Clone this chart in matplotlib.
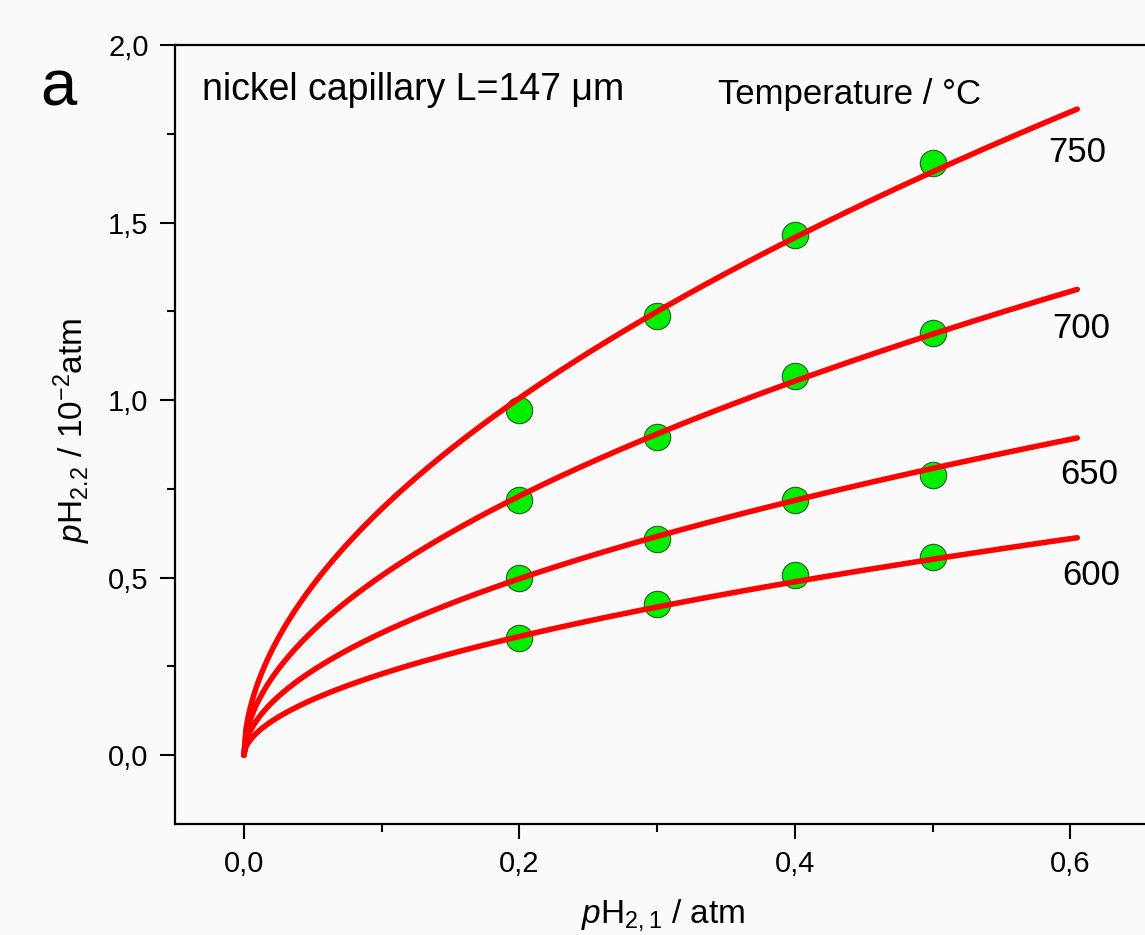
import numpy as np
import matplotlib
matplotlib.use("Agg")
import matplotlib.pyplot as plt
from matplotlib.ticker import MultipleLocator, FuncFormatter

plt.rcParams['font.family'] = ['Liberation Sans', 'DejaVu Sans']
plt.rcParams['mathtext.fontset'] = 'custom'
plt.rcParams['mathtext.rm'] = 'Liberation Sans'
plt.rcParams['mathtext.it'] = 'Liberation Sans:italic'

# measured points (pH2,1 in atm, pH2,2 in 10^-2 atm)
p_in = [0.2, 0.3, 0.4, 0.5]
temps = ["750", "700", "650", "600"]
p_out_750 = [0.972, 1.236, 1.466, 1.669]
p_out_700 = [0.719, 0.896, 1.067, 1.188]
p_out_650 = [0.500, 0.610, 0.719, 0.789]
p_out_600 = [0.329, 0.427, 0.506, 0.559]

# fitted curves y = a * x^n
fit_a = [2.382, 1.712, 1.166, 0.806]
fit_n = [0.536, 0.530, 0.530, 0.547]

# where the temperature labels sit (data coords)
label_x = [0.584, 0.587, 0.593, 0.594]
label_y = [1.671, 1.174, 0.764, 0.478]

bg = '#fbfafa'
fig = plt.figure(figsize=(11.45, 9.35), dpi=100, facecolor=bg)
ax = fig.add_axes([175 / 1145, 111 / 935, 978 / 1145, 779 / 935], facecolor=bg)

series = [p_out_750, p_out_700, p_out_650, p_out_600]
xs = np.linspace(0, 0.605, 400)
for i, ys in enumerate(series):
    ax.plot(p_in, ys, 'o', ms=19, mfc='#00ee00', mec='#2a5a2a', mew=0.8, zorder=2)
    ax.plot(xs, fit_a[i] * xs ** fit_n[i], color='#ff0000', lw=4,
            solid_capstyle='round', zorder=3)
    ax.text(label_x[i], label_y[i], temps[i], fontsize=25, ha='left', va='baseline')

ax.set_xlim(-0.05, 0.66)
ax.set_ylim(-0.194, 2.0)
ax.xaxis.set_major_locator(MultipleLocator(0.2))
ax.xaxis.set_minor_locator(MultipleLocator(0.1))
ax.yaxis.set_major_locator(MultipleLocator(0.5))
ax.yaxis.set_minor_locator(MultipleLocator(0.25))
comma = FuncFormatter(lambda v, p: ("%.1f" % v).replace('.', ','))
ax.xaxis.set_major_formatter(comma)
ax.yaxis.set_major_formatter(comma)
ax.tick_params(which='major', direction='out', length=11, width=1.5, labelsize=21, pad=8)
ax.tick_params(which='minor', direction='out', length=6, width=1.5)
ax.tick_params(top=False, right=False)
for s in ax.spines.values():
    s.set_linewidth(1.6)

ax.text((202 - 244) / 1377, 1.845, u"nickel capillary L=147 \u03bcm", fontsize=27,
        ha='left', va='baseline')
ax.text((718 - 244) / 1377, 1.835, u"Temperature / \u00b0C", fontsize=25,
        ha='left', va='baseline')

fig.text(40 / 1145, 1 - 105 / 935, "a", fontsize=47, ha='left', va='baseline')
fig.text(663 / 1145, 1 - 923 / 935, r'$p$H$_{2,1}$ / atm', fontsize=24,
         ha='center', va='baseline')
fig.text(83 / 1145, 1 - 430 / 935, r'$p$H$_{2.2}$ / 10$^{-2}$atm', fontsize=24,
         ha='center', va='baseline', rotation=90, rotation_mode='anchor')

fig.savefig('out.png', dpi=100, facecolor=bg)
